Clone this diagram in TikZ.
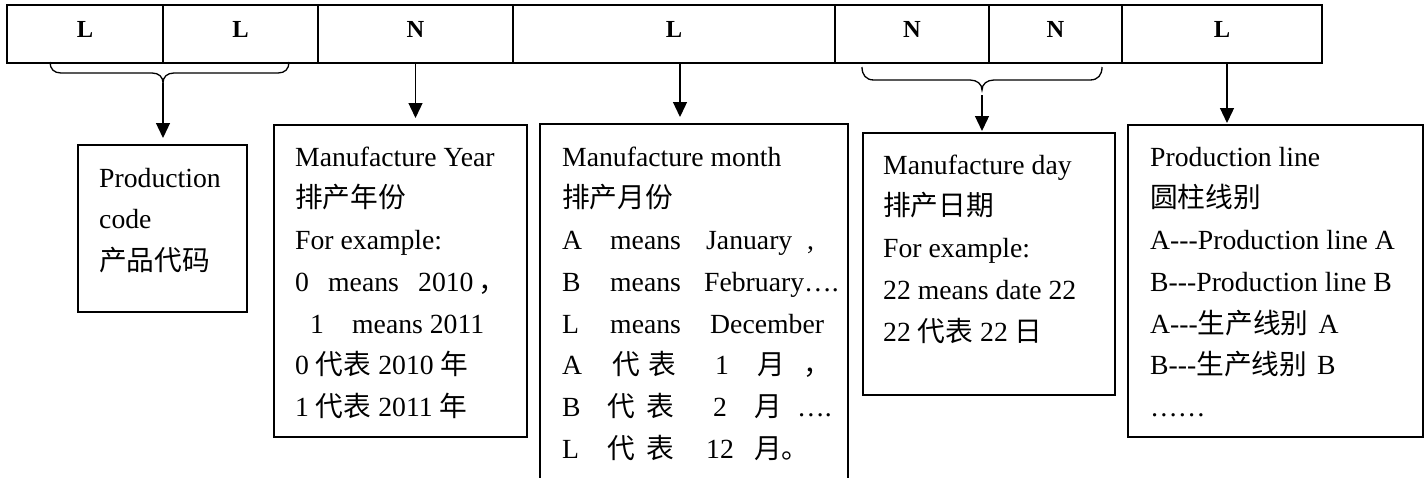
\documentclass[tikz,border=0pt]{standalone}
\usepackage{fontspec}
\setmainfont{Liberation Serif}
\newfontfamily\cjk{Noto Sans CJK SC}
\usetikzlibrary{arrows.meta}
\newcommand\xat[2]{\makebox[0pt][l]{\hspace*{#1pt}#2}}
\newcommand\hy{\mbox{-}}
\begin{document}
\begin{tikzpicture}[x=1pt,y=-1pt,
  cell/.style={draw, line width=1.8pt, inner sep=0pt, outer sep=0pt, minimum height=58pt,
    font=\fontsize{24.5}{28}\selectfont\bfseries, text height=10pt, text depth=3.4pt},
  box/.style={draw, line width=1.6pt, inner sep=0pt, outer sep=0pt},
  txt/.style={anchor=north west, inner sep=0pt, align=left, font=\fontsize{27.7}{41.7}\selectfont},
  arr/.style={line width=1.3pt, -{Triangle[length=15pt,width=14pt]}},
  brace/.style={line width=1.3pt}]
\useasboundingbox (0,0) rectangle (1426,477);
\fill[white] (0,0) rectangle (1426,477);
\clip (0,0) rectangle (1426,477);

% top row
\node[cell, minimum width=156pt] (c1) at (85,34) {L};
\node[cell, minimum width=155pt] (c2) at (240.5,34) {L};
\node[cell, minimum width=195pt] (c3) at (415.5,34) {N};
\node[cell, minimum width=322pt] (c4) at (674,34) {L};
\node[cell, minimum width=154pt] (c5) at (912,34) {N};
\node[cell, minimum width=133pt] (c6) at (1055.5,34) {N};
\node[cell, minimum width=200pt] (c7) at (1222,34) {L};

% boxes
\node[box, minimum width=169pt, minimum height=167pt] (box1) at (162.5,228.5) {};
\node[box, minimum width=253pt, minimum height=312pt] (box2) at (400.5,281) {};
\node[box, minimum width=308pt, minimum height=376pt] (box3) at (694,312) {};
\node[box, minimum width=252pt, minimum height=262pt] (box4) at (989,264) {};
\node[box, minimum width=295pt, minimum height=312pt] (box5) at (1275.5,281) {};

% texts
\node[txt] (t1) at (99,157) {\rule{0pt}{30pt}Production\\ code\\ {\cjk 产品代码}};
\node[txt] (t2) at (295,136) {\rule{0pt}{30pt}Manufacture Year\\
  {\cjk 排产年份}\\
  For example:\\
  \xat{0}{0}\xat{33}{means}\xat{123}{2010}\xat{183}{\cjk ，}\\
  \xat{15}{1}\xat{57}{means 2011}\\
  0 {\cjk 代表} 2010 {\cjk 年}\\
  1 {\cjk 代表} 2011 {\cjk 年}};
\node[txt] (t3) at (562,136) {\rule{0pt}{30pt}Manufacture month\\
  {\cjk 排产月份}\\
  \xat{0}{A}\xat{48}{means}\xat{144}{January}\xat{245}{,}\\
  \xat{0}{B}\xat{48}{means}\xat{142}{February….}\\
  \xat{0}{L}\xat{48}{means}\xat{148}{December}\\
  \xat{0}{A}\xat{50}{\cjk 代}\xat{86}{\cjk 表}\xat{153}{1}\xat{195}{\cjk 月}\xat{241}{\cjk ，}\\
  \xat{0}{B}\xat{45}{\cjk 代}\xat{84}{\cjk 表}\xat{151}{2}\xat{192}{\cjk 月}\xat{235}{….}\\
  \xat{0}{L}\xat{45}{\cjk 代}\xat{84}{\cjk 表}\xat{144}{12}\xat{192}{\cjk 月。}};
\node[txt] (t4) at (883,144) {\rule{0pt}{30pt}Manufacture day\\
  {\cjk 排产日期}\\
  For example:\\
  22 means date 22\\
  22 {\cjk 代表} 22 {\cjk 日}};
\node[txt] (t5) at (1150,136) {\rule{0pt}{30pt}Production line\\
  {\cjk 圆柱线别}\\
  A\hy\hy\hy Production line A\\
  B\hy\hy\hy Production line B\\
  A\hy\hy\hy{\cjk 生产线别}\hspace{10pt}A\\
  B\hy\hy\hy{\cjk 生产线别}\hspace{10pt}B\\
  ……};

% braces
\coordinate (b1tip) at (163,83);
\coordinate (b2tip) at (982,90);
\coordinate (b2start) at (982,95);
\draw[brace] (50,62) .. controls (50,69) and (54,73) .. (61,73) -- (152,73)
  .. controls (159,73) and (163,77) .. (b1tip)
  .. controls (163,77) and (167,73) .. (174,73) -- (278,73)
  .. controls (285,73) and (289,69) .. (289,62);
\draw[brace] (862,67) .. controls (862,75) and (866,80) .. (874,80) -- (970,80)
  .. controls (977,80) and (982,84) .. (b2tip)
  .. controls (982,84) and (987,80) .. (994,80) -- (1090,80)
  .. controls (1098,80) and (1102,75) .. (1102,67);

% arrows
\draw[arr, shorten >=7pt] (b1tip) -- (b1tip |- box1.north);
\draw[arr, shorten >=7pt] (c3.south) -- (c3.south |- box2.north);
\draw[arr, shorten >=7pt] ([xshift=6pt]c4.south) -- ([xshift=6pt]c4.south |- box3.north);
\draw[arr, shorten >=2pt] (b2start) -- (b2start |- box4.north);
\draw[arr, shorten >=2pt] ([xshift=5pt]c7.south) -- ([xshift=5pt]c7.south |- box5.north);
\end{tikzpicture}
\end{document}
